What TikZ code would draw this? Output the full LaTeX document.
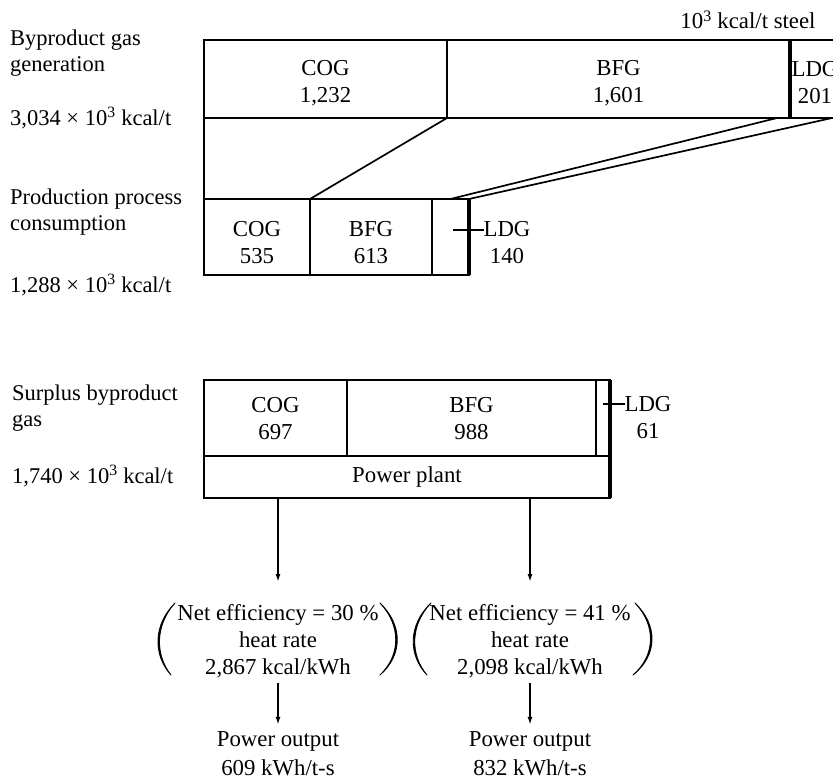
\documentclass[tikz,border=0pt]{standalone}
\usepackage{fontspec}
\setmainfont{Liberation Serif}
\usetikzlibrary{arrows.meta}
\begin{document}
\begin{tikzpicture}[x=1pt,y=-1pt,
  txt/.style={font=\fontsize{22.8}{27}\selectfont, inner sep=0pt, outer sep=0pt, align=center},
  cell/.style={draw, line width=1.8pt, inner sep=0pt, outer sep=0pt, anchor=north west},
  side/.style={font=\fontsize{22.5}{26}\selectfont, inner sep=0pt, anchor=west, align=left},
  rule/.style={line width=1.7pt},
  heavy/.style={line width=3.4pt},
  leader/.style={line width=1.1pt},
  flow/.style={line width=1.6pt, -{Latex[length=8pt,width=5pt]}},
  paren/.style={fill=black, draw=black, line width=0.9pt, line join=round}]
\useasboundingbox (0,0) rectangle (833,780);

% ---- byproduct gas generation ----
\node[txt] (unit) at (748,20) {10\textsuperscript{3} kcal/t steel};
\node[side] (lgen) at (10,53) {Byproduct gas\\generation};
\node[side] (tgen) at (10,118) {3,034 × 10\textsuperscript{3} kcal/t};
\node[cell, minimum width=243pt, minimum height=78pt] (gcog) at (204,40) {};
\node[cell, minimum width=343pt, minimum height=78pt] (gbfg) at (447,40) {};
\node[cell, minimum width=50pt, minimum height=78pt] (gldg) at (790,40) {};
\draw[heavy] (gldg.north west) -- (gldg.south west);
\node[txt] (gcogt) at ([yshift=-4pt]gcog.center) {COG\\1,232};
\node[txt] (gbfgt) at ([yshift=-4pt]gbfg.center) {BFG\\1,601};
\node[txt] (gldgt) at ([yshift=-4pt]gldg.center) {LDG\\201};

% ---- production process consumption ----
\node[side] (lprod) at (10,212) {Production process\\consumption};
\node[side] (tprod) at (10,285) {1,288 × 10\textsuperscript{3} kcal/t};
\node[cell, minimum width=106pt, minimum height=76pt] (pcog) at (204,199) {};
\node[cell, minimum width=122pt, minimum height=76pt] (pbfg) at (310,199) {};
\node[cell, minimum width=37pt, minimum height=76pt] (pldg) at (432,199) {};
\draw[heavy] (pldg.north east) -- (pldg.south east);
\node[txt] (pcogt) at ([yshift=-6pt]pcog.center) {COG\\535};
\node[txt] (pbfgt) at ([yshift=-6pt]pbfg.center) {BFG\\613};
\node[txt] (pldgl) at (507,243) {LDG\\140};
\coordinate (pldgtick) at (453,230);
\draw[leader] (pldgtick) -- (pldgtick -| pldgl.west);

% share of each gas taken by the processes
\coordinate (gsplit) at (777,118);
\coordinate (gend) at (832,118);
\draw[rule] (gcog.south west) -- (pcog.north west);
\draw[rule] (gcog.south east) -- (pbfg.north west);
\draw[rule] (gsplit) -- (pldg.north);
\draw[rule] (gend) -- (pldg.north east);

% ---- surplus byproduct gas ----
\node[side] (lsur) at (12,408) {Surplus byproduct\\gas};
\node[side] (tsur) at (12,476) {1,740 × 10\textsuperscript{3} kcal/t};
\node[cell, minimum width=143pt, minimum height=76pt] (scog) at (204,380) {};
\node[cell, minimum width=249pt, minimum height=76pt] (sbfg) at (347,380) {};
\node[cell, minimum width=14pt, minimum height=76pt] (sldg) at (596,380) {};
\node[cell, minimum width=406pt, minimum height=42pt] (pp) at (204,456) {};
\draw[heavy] (sldg.north east) -- (pp.south east);
\node[txt] (scogt) at ([yshift=-1pt]scog.center) {COG\\697};
\node[txt] (sbfgt) at ([yshift=-1pt]sbfg.center) {BFG\\988};
\node[txt] (ppt) at (pp.center) {Power plant};
\node[txt] (sldgl) at (648,418) {LDG\\61};
\coordinate (sldgtick) at (603,404);
\draw[leader] (sldgtick) -- (sldgtick -| sldgl.west);

% ---- conversion to power ----
\coordinate (in1) at (278,582);
\coordinate (in2) at (530,582);
\draw[flow] (pp.south -| in1) -- (in1);
\draw[flow] (pp.south -| in2) -- (in2);

\node[txt] (eff1) at (278,641) {Net efficiency = 30 \%\\heat rate\\2,867 kcal/kWh};
\node[txt] (eff2) at (530,641) {Net efficiency = 41 \%\\heat rate\\2,098 kcal/kWh};

% bracketing parentheses, drawn as slightly tapered strokes
\draw[paren] (175,603) .. controls (153,625) and (153,655) .. (171,675)
             .. controls (155,655) and (155,625) .. cycle;
\draw[paren] (380,603) .. controls (403,625) and (403,655) .. (380,675)
             .. controls (401,655) and (401,625) .. cycle;
\draw[paren] (431,603) .. controls (408,625) and (408,655) .. (427,675)
             .. controls (410,655) and (410,625) .. cycle;
\draw[paren] (635,603) .. controls (658,625) and (658,655) .. (633,675)
             .. controls (656,655) and (656,625) .. cycle;

\node[txt, font=\fontsize{22.8}{29}\selectfont] (out1) at (278,754) {Power output\\609 kWh/t-s};
\node[txt, font=\fontsize{22.8}{29}\selectfont] (out2) at (530,754) {Power output\\832 kWh/t-s};
\draw[flow, shorten <=5pt, shorten >=7pt] (eff1.south) -- (out1.north);
\draw[flow, shorten <=5pt, shorten >=7pt] (eff2.south) -- (out2.north);
\end{tikzpicture}
\end{document}
